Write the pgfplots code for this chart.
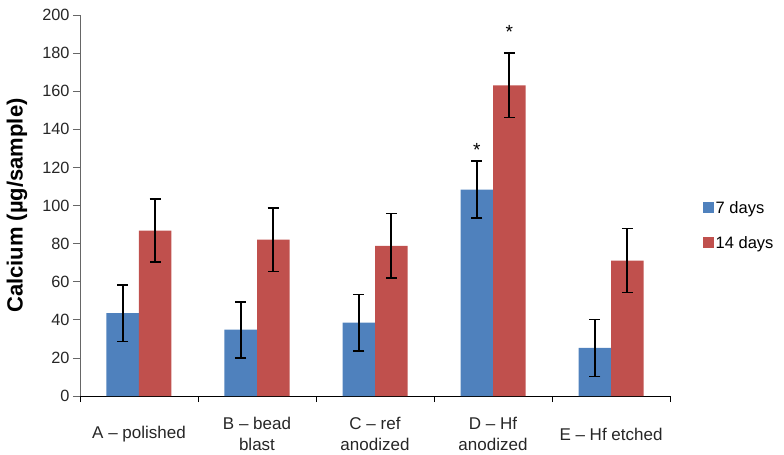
\documentclass[border=0pt]{standalone}
\usepackage{pgfplots}
\pgfplotsset{compat=1.18}
\usepackage{fontspec}
\setmainfont{Liberation Sans}
\definecolor{cblue}{HTML}{4F81BD}
\definecolor{cred}{HTML}{C0504D}
\begin{document}
\begin{tikzpicture}
\useasboundingbox (-80bp,-59bp) rectangle (704bp,396bp);
\begin{axis}[
  at={(0,0)}, anchor=south west,
  scale only axis, width=590bp, height=381bp,
  xmin=-0.5, xmax=4.5, ymin=0, ymax=200,
  ytick={0,20,...,200},
  xtick={0,1,2,3,4},
  xticklabels={A -- polished, B -- bead\\blast, C -- ref\\anodized, D -- Hf\\anodized, E -- Hf etched},
  minor xtick={-0.5,0.5,1.5,2.5,3.5,4.5},
  major x tick style={draw=none},
  minor x tick style={black, line width=0.8bp},
  minor tick length=6bp,
  major tick length=7bp,
  tick align=outside,
  axis x line*=bottom, axis y line*=left,
  x axis line style={black, line width=0.8bp},
  y axis line style={gray!80!black, line width=0.8bp},
  y tick style={gray!80!black, line width=0.8bp},
  /pgf/number format/assume math mode=true,
  ticklabel style={text=black!85},
  xticklabel style={font=\fontsize{17bp}{20.5bp}\selectfont, align=center, anchor=center, yshift=-31bp},
  yticklabel style={font=\fontsize{16.3bp}{19bp}\selectfont, xshift=0bp},
  ylabel={Calcium (µg/sample)},
  ylabel style={font=\fontsize{22bp}{24bp}\selectfont\bfseries, at={(axis description cs:-0.107,0.5)}, anchor=center},
  ybar=0pt, bar width=32.5bp,
  legend style={at={(rel axis cs:1.05,0.522)}, anchor=north west, draw=none, fill=none,
    font=\fontsize{16.5bp}{19bp}\selectfont, row sep=18bp, legend cell align=left},
  legend image code/.code={\fill[#1] (0bp,-5bp) rectangle (11bp,6bp);},
  error bars/y dir=both, error bars/y explicit,
  error bars/error bar style={black, line width=1.6bp},
  error bars/error mark options={black, rotate=90, mark size=5.5bp, line width=1.6bp},
]
\addplot[fill=cblue, draw=none] coordinates {
  (0,43.5) +- (0,14.8)
  (1,34.8) +- (0,14.7)
  (2,38.5) +- (0,14.8)
  (3,108.3) +- (0,15.0)
  (4,25.2) +- (0,15.0)
};
\addplot[fill=cred, draw=none] coordinates {
  (0,86.8) +- (0,16.5)
  (1,82.1) +- (0,16.7)
  (2,78.8) +- (0,17.0)
  (3,163.1) +- (0,17.0)
  (4,71.1) +- (0,16.8)
};
\legend{7 days, 14 days}
\node[font=\fontsize{19bp}{19bp}\selectfont] at (axis cs:3,129) [xshift=-16.25bp] {*};
\node[font=\fontsize{19bp}{19bp}\selectfont] at (axis cs:3,191) [xshift=16.25bp] {*};
\end{axis}
\end{tikzpicture}
\end{document}
